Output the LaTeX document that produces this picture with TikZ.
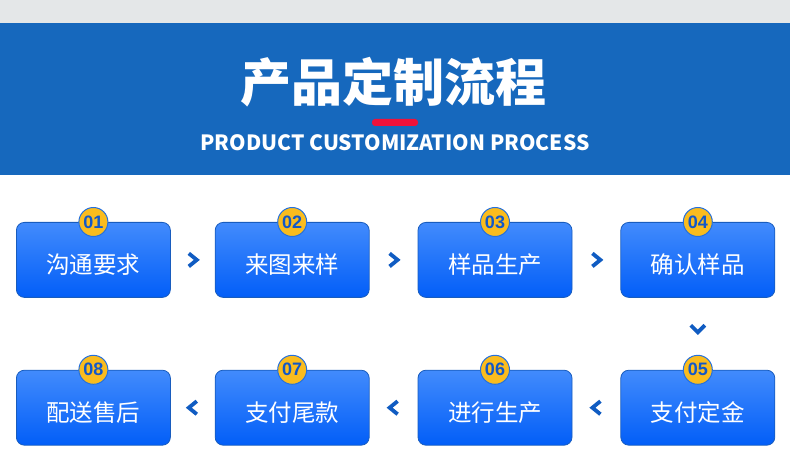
\documentclass[tikz,border=0pt]{standalone}
\usepackage{fontspec}
\setmainfont{Noto Sans CJK SC}
\newfontfamily\numfont{Liberation Sans}
\usetikzlibrary{
	positioning,
	calc
}
\definecolor{BandGray}{RGB}{228,231,232}
\definecolor{BandBlue}{RGB}{22,104,189}
\definecolor{BoxTop}{RGB}{66,139,252}
\definecolor{BoxBottom}{RGB}{2,94,248}
\definecolor{BoxLine}{RGB}{24,92,190}
\definecolor{ChevBlue}{RGB}{16,92,194}
\definecolor{BadgeYellow}{RGB}{250,188,30}
\definecolor{BadgeLine}{RGB}{36,112,222}
\definecolor{BadgeText}{RGB}{18,88,200}
\definecolor{MarkRed}{RGB}{238,18,58}

\begin{document}
\begin{tikzpicture}[
	x=1pt,y=-1pt,
	node distance=72pt and 48pt,
	stepbox/.style={
		draw=BoxLine,
		line width=0.8pt,
		rounded corners=8pt,
		top color=BoxTop,
		bottom color=BoxBottom,
		minimum width=154pt,
		minimum height=75pt,
		text=white,
		font=\fontsize{23.5}{23.5}\selectfont,
		text height=27pt,
		text depth=0pt,
		inner sep=0pt
	},
	badge/.style={
		circle,
		draw=BadgeLine,
		line width=1pt,
		fill=BadgeYellow,
		minimum size=29pt,
		inner sep=0pt,
		text=BadgeText,
		font=\numfont\bfseries\fontsize{18}{18}\selectfont
	},
	chev/.style={
		ChevBlue,
		line width=3.8pt,
		miter limit=10
	}
	]
	
	\useasboundingbox (0,0) rectangle (790,462);
	
	% header bands
	\fill[BandGray] (0,0) rectangle (790,23);
	\fill[BandBlue] (0,23) rectangle (790,175);
	
	\node[
	text=white,
	font=\bfseries\fontsize{51}{51}\selectfont,
	inner sep=0pt
	]
	(TITLE) at (393,82)
	{产品定制流程};
	
	\fill[MarkRed, rounded corners=3pt] (372,119) rectangle (418,126);
	
	\node[
	text=white,
	font=\bfseries\fontsize{21}{21}\selectfont,
	inner sep=0pt
	]
	(SUB) at (395,143)
	{PRODUCT CUSTOMIZATION PROCESS};
	
	% first row
	\node[stepbox, anchor=north west] (REQ) at (16,222) {沟通要求};
	\node[stepbox, right=44pt of REQ] (SAMPLE) {来图来样};
	\node[stepbox, right=of SAMPLE] (PROD) {样品生产};
	\node[stepbox, right=of PROD] (CONFIRM) {确认样品};
	
	% second row
	\node[stepbox, below=of CONFIRM] (DEPOSIT) {支付定金};
	\node[stepbox, left=of DEPOSIT] (MAKE) {进行生产};
	\node[stepbox, left=of MAKE] (BALANCE) {支付尾款};
	\node[stepbox, left=44pt of BALANCE] (SHIP) {配送售后};
	
	% badges
	\node[badge] (N1) at (REQ.north) {01};
	\node[badge] (N2) at (SAMPLE.north) {02};
	\node[badge] (N3) at (PROD.north) {03};
	\node[badge] (N4) at (CONFIRM.north) {04};
	\node[badge] (N5) at (DEPOSIT.north) {05};
	\node[badge] (N6) at (MAKE.north) {06};
	\node[badge] (N7) at (BALANCE.north) {07};
	\node[badge] (N8) at (SHIP.north) {08};
	
	% chevrons between the steps
	\coordinate (C12) at ($(REQ.east)!0.5!(SAMPLE.west)$);
	\coordinate (C23) at ($(SAMPLE.east)!0.5!(PROD.west)$);
	\coordinate (C34) at ($(PROD.east)!0.5!(CONFIRM.west)$);
	\coordinate (C45) at ($(CONFIRM.south)!0.5!(DEPOSIT.north)+(0,-5)$);
	\coordinate (C56) at ($(DEPOSIT.west)!0.5!(MAKE.east)$);
	\coordinate (C67) at ($(MAKE.west)!0.5!(BALANCE.east)$);
	\coordinate (C78) at ($(BALANCE.west)!0.5!(SHIP.east)$);
	
	\foreach \c in {C12,C23,C34}
	\draw[chev] ($(\c)+(-4,-6.5)$) -- ($(\c)+(4,0)$) -- ($(\c)+(-4,6.5)$);
	
	\draw[chev] ($(C45)+(-7,-3.5)$) -- ($(C45)+(0,3.5)$) -- ($(C45)+(7,-3.5)$);
	
	\foreach \c in {C56,C67,C78}
	\draw[chev] ($(\c)+(4,-6.5)$) -- ($(\c)+(-4,0)$) -- ($(\c)+(4,6.5)$);
	
\end{tikzpicture}
\end{document}
